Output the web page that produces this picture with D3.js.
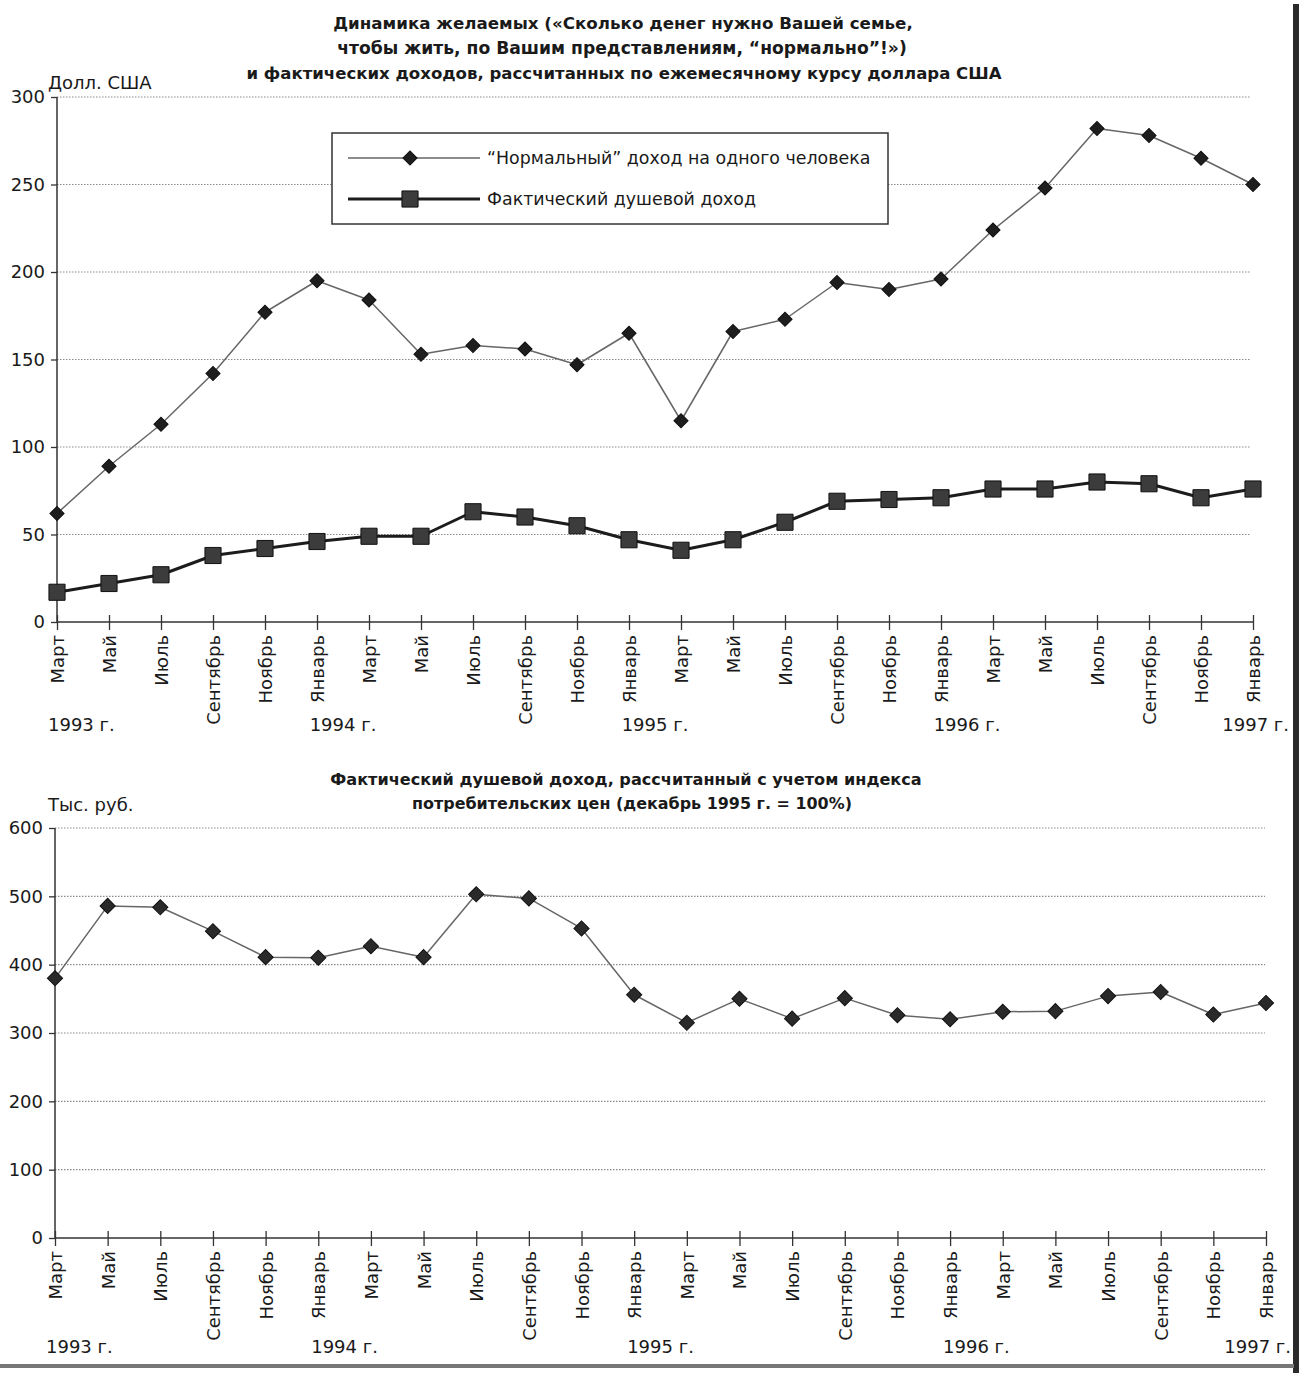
<!DOCTYPE html>
<html>
<head>
<meta charset="utf-8">
<script src="https://cdn.jsdelivr.net/npm/d3@7"></script>
<style>
  html, body { margin: 0; padding: 0; background: #fff; }
  svg { display: block; }
  text { font-family: "DejaVu Sans", "Noto Sans", sans-serif; fill: #1a1a1a; }
</style>
</head>
<body>
<script>
// ---------- DATA ----------
const months = ["Март","Май","Июль","Сентябрь","Ноябрь","Январь","Март","Май","Июль","Сентябрь","Ноябрь","Январь",
                "Март","Май","Июль","Сентябрь","Ноябрь","Январь","Март","Май","Июль","Сентябрь","Ноябрь","Январь"];
const years = ["1993 г.","1994 г.","1995 г.","1996 г.","1997 г."];
const normalIncomeUSD = [62,89,113,142,177,195,184,153,158,156,147,165,115,166,173,194,190,196,224,248,282,278,265,250];
const actualIncomeUSD = [17,22,27,38,42,46,49,49,63,60,55,47,41,47,57,69,70,71,76,76,80,79,71,76];
const actualIncomeCPI = [380,486,484,449,411,410,427,411,503,497,453,356,315,350,321,351,326,320,331,332,354,360,327,344];
const yTicksTop = [0,50,100,150,200,250,300];
const yTicksBottom = [0,100,200,300,400,500,600];
const titleTop = ["Динамика желаемых («Сколько денег нужно Вашей семье,",
                  "чтобы жить, по Вашим представлениям, “нормально”!»)",
                  "и фактических доходов, рассчитанных по ежемесячному курсу доллара США"];
const titleBottom = ["Фактический душевой доход, рассчитанный с учетом индекса",
                     "потребительских цен (декабрь 1995 г. = 100%)"];
const unitTop = "Долл. США";
const unitBottom = "Тыс. руб.";
const legendLabels = ["“Нормальный” доход на одного человека", "Фактический душевой доход"];

// ---------- SETUP ----------
const W = 1303, H = 1373;
const FS = "18px";
const svg = d3.select("body").append("svg").attr("width", W).attr("height", H);

function fitText(sel, targetW) {
  const base = 16;
  sel.style("font-size", base + "px");
  const w = sel.node().getComputedTextLength();
  sel.style("font-size", (base * targetW / w) + "px");
}

function drawChart(cfg) {
  const g = svg.append("g");
  const x = d3.scaleLinear().domain([0, months.length - 1]).range([cfg.left, cfg.right]);
  const y = d3.scaleLinear().domain([0, cfg.yMax]).range([cfg.bottom, cfg.top]);

  // title
  cfg.title.forEach((t, i) => {
    const tx = g.append("text").attr("x", cfg.titleX[i]).attr("y", cfg.titleY[i])
      .attr("text-anchor", "middle").style("font-weight", "bold").text(t);
    fitText(tx, cfg.titleW[i]);
  });
  // unit
  g.append("text").attr("x", cfg.unitX).attr("y", cfg.unitY).style("font-size", FS).text(cfg.unit);

  // grid
  g.append("g").selectAll("line").data(cfg.yTicks.filter(v => v > 0)).join("line")
    .attr("x1", cfg.left).attr("x2", cfg.gridRight)
    .attr("y1", d => y(d)).attr("y2", d => y(d))
    .attr("stroke", "#8a8a8a").attr("stroke-width", 1.2).attr("stroke-dasharray", "1.5,1.5");

  // y axis
  const ya = g.append("g").attr("transform", `translate(${cfg.left},0)`)
    .call(d3.axisLeft(y).tickValues(cfg.yTicks).tickSize(6).tickPadding(6).tickFormat(d3.format("d")));
  ya.select(".domain").attr("stroke", "#333").attr("stroke-width", 1.5).attr("d", `M0,${cfg.bottom}V${cfg.top}`);
  ya.selectAll(".tick line").attr("stroke", "#333").attr("stroke-width", 1.3);
  ya.selectAll(".tick text").style("font-size", FS).style("font-family", "DejaVu Sans").attr("fill", "#1a1a1a");

  // x axis
  const xa = g.append("g").attr("transform", `translate(0,${cfg.bottom})`)
    .call(d3.axisBottom(x).tickValues(d3.range(months.length)).tickSize(8).tickFormat(i => months[i]));
  xa.select(".domain").attr("stroke", "#333").attr("stroke-width", 1.5).attr("d", `M${cfg.left},0H${cfg.right}`);
  xa.selectAll(".tick line").attr("stroke", "#333").attr("stroke-width", 1.3).attr("y1", -7);
  xa.selectAll(".tick text")
    .style("font-size", FS).style("font-family", "DejaVu Sans").attr("fill", "#1a1a1a")
    .attr("transform", "rotate(-90)").attr("text-anchor", "end")
    .attr("x", -13).attr("y", 0).attr("dy", "0.36em");

  // year labels
  const janIdx = months.map((m, i) => m === "Январь" ? i : -1).filter(i => i >= 0);
  years.forEach((yr, k) => {
    let px, anchor = "middle";
    if (k === 0) { px = x(0) - 9; anchor = "start"; }
    else if (k === years.length - 1) { px = cfg.yearEndX; anchor = "end"; }
    else { px = (x(janIdx[k - 1]) + x(janIdx[k - 1] + 1)) / 2; }
    g.append("text").attr("x", px).attr("y", cfg.yearY).attr("text-anchor", anchor)
      .style("font-size", FS).text(yr);
  });

  // series
  cfg.series.forEach(s => {
    const line = d3.line().x((d, i) => x(i)).y(d => y(d));
    g.append("path").datum(s.values).attr("d", line).attr("fill", "none")
      .attr("stroke", s.stroke).attr("stroke-width", s.width).attr("stroke-linejoin", "round");
    const sym = d3.symbol().type(d3.symbolSquare).size(s.size);
    g.append("g").selectAll("path").data(s.values).join("path")
      .attr("d", sym)
      .attr("transform", (d, i) => `translate(${x(i)},${y(d)})` + (s.marker === "diamond" ? " rotate(45)" : ""))
      .attr("fill", s.fill).attr("stroke", s.markerStroke).attr("stroke-width", 1);
  });
  return g;
}

const seriesNormal = { values: normalIncomeUSD, stroke: "#666", width: 1.5, marker: "diamond", size: 100, fill: "#1e1e1e", markerStroke: "#111" };
const seriesActual = { values: actualIncomeUSD, stroke: "#1c1c1c", width: 3, marker: "square", size: 260, fill: "#3c3c3c", markerStroke: "#111" };
const seriesCPI    = { values: actualIncomeCPI, stroke: "#666", width: 1.5, marker: "diamond", size: 115, fill: "#2a2a2a", markerStroke: "#111" };

// top chart
drawChart({
  left: 57, right: 1253, top: 97, bottom: 622, gridRight: 1251, yMax: 300, yTicks: yTicksTop,
  title: titleTop, titleX: [623, 622, 624], titleY: [29, 54, 79], titleW: [580, 570, 756],
  unit: unitTop, unitX: 48, unitY: 89, yearY: 731, yearEndX: 1289,
  series: [seriesNormal, seriesActual]
});

// legend
const lg = svg.append("g");
lg.append("rect").attr("x", 332).attr("y", 133).attr("width", 556).attr("height", 91)
  .attr("fill", "#fff").attr("stroke", "#333").attr("stroke-width", 1.5);
[seriesNormal, seriesActual].forEach((s, i) => {
  const cy = 158 + i * 41;
  lg.append("line").attr("x1", 348).attr("x2", 480).attr("y1", cy).attr("y2", cy)
    .attr("stroke", s.stroke).attr("stroke-width", s.width);
  lg.append("path").attr("d", d3.symbol().type(d3.symbolSquare).size(s.size)())
    .attr("transform", `translate(410,${cy})` + (s.marker === "diamond" ? " rotate(45)" : ""))
    .attr("fill", s.fill).attr("stroke", s.markerStroke).attr("stroke-width", 1);
  lg.append("text").attr("x", 487).attr("y", cy).attr("dy", "0.35em").style("font-size", "17.4px").text(legendLabels[i]);
});

// bottom chart
drawChart({
  left: 55, right: 1266, top: 828, bottom: 1238, gridRight: 1265, yMax: 600, yTicks: yTicksBottom,
  title: titleBottom, titleX: [626, 632], titleY: [785, 809], titleW: [592, 440],
  unit: unitBottom, unitX: 48, unitY: 811, yearY: 1353, yearEndX: 1291,
  series: [seriesCPI]
});

// scan edges (page border)
svg.append("rect").attr("x", 1293).attr("y", 4).attr("width", 6).attr("height", H - 4).attr("fill", "#2a2a2a");
svg.append("rect").attr("x", 0).attr("y", 1364).attr("width", 1294).attr("height", 4).attr("fill", "#777");
</script>
</body>
</html>
